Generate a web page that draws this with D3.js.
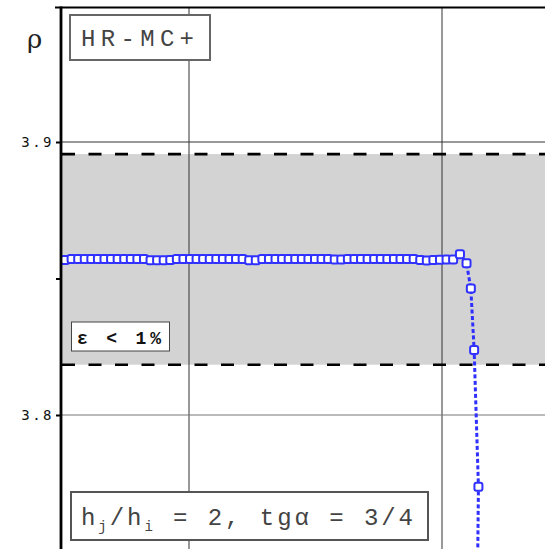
<!DOCTYPE html>
<html>
<head>
<meta charset="utf-8">
<script src="https://cdn.jsdelivr.net/npm/d3@7"></script>
<style>
  html, body { margin: 0; padding: 0; background: #fff; }
  svg { display: block; }
</style>
</head>
<body>
<svg id="chart" width="545" height="549"></svg>
<script>
// Parameter values along the horizontal axis
const xValues = [
  0.510, 0.536, 0.562, 0.588, 0.614, 0.640, 0.666, 0.692, 0.718, 0.744,
  0.770, 0.796, 0.822, 0.848, 0.874, 0.900, 0.926, 0.952, 0.978, 1.004,
  1.030, 1.056, 1.082, 1.108, 1.134, 1.160, 1.186, 1.212, 1.238, 1.264,
  1.290, 1.316, 1.342, 1.368, 1.394, 1.420, 1.446, 1.472, 1.498, 1.524,
  1.550, 1.576, 1.602, 1.628, 1.654, 1.680, 1.706, 1.732, 1.758, 1.784,
  1.810, 1.836, 1.862, 1.888, 1.914, 1.940, 1.966, 1.992, 2.018, 2.044,
  2.071, 2.097, 2.114, 2.127, 2.144, 2.138
];
// Computed density rho for each parameter value
const rhoValues = [
  3.8568, 3.8571, 3.8571, 3.8571, 3.8571, 3.8571, 3.8571, 3.8571, 3.8571, 3.8571,
  3.8571, 3.8571, 3.8571, 3.8567, 3.8567, 3.8567, 3.8568, 3.8571, 3.8571, 3.8571,
  3.8571, 3.8571, 3.8571, 3.8571, 3.8571, 3.8571, 3.8571, 3.8571, 3.8567, 3.8567,
  3.8571, 3.8571, 3.8571, 3.8571, 3.8571, 3.8571, 3.8571, 3.8571, 3.8571, 3.8571,
  3.8571, 3.8570, 3.8570, 3.8571, 3.8571, 3.8571, 3.8571, 3.8571, 3.8571, 3.8571,
  3.8571, 3.8571, 3.8571, 3.8571, 3.8568, 3.8566, 3.8568, 3.8569, 3.8570, 3.8570,
  3.8589, 3.8556, 3.8463, 3.8238, 3.7737, 3.7200
];
const visibleMarkers = 65;   // last point lies below the frame

// Reference level and tolerance band
const rhoRef = 3.857;
const tolerance = 0.01;

// Axis ticks
const yTickValues = [3.8, 3.85, 3.9];
const yTickLabels = ["3.8", "", "3.9"];
const xGridValues = [1, 2];
const yGridValues = [3.8, 3.9];

const svg = d3.select("#chart");
const W = 545, H = 549;
const plotLeft = 61, plotTop = 8;

const x = d3.scaleLinear().domain([1, 2]).range([189, 442]);
const y = d3.scaleLinear().domain([3.8, 3.9]).range([415, 142]);

svg.append("defs").append("clipPath").attr("id", "plotClip")
  .append("rect").attr("x", plotLeft).attr("y", plotTop)
  .attr("width", W - plotLeft).attr("height", H - plotTop);

const plot = svg.append("g").attr("clip-path", "url(#plotClip)");

// tolerance band
const bandTop = y(rhoRef * (1 + tolerance));
const bandBot = y(rhoRef * (1 - tolerance));
plot.append("rect")
  .attr("x", plotLeft).attr("y", bandTop)
  .attr("width", W - plotLeft).attr("height", bandBot - bandTop)
  .attr("fill", "#d3d3d3");

// grid
plot.selectAll(".vgrid").data(xGridValues).join("line")
  .attr("x1", d => x(d)).attr("x2", d => x(d))
  .attr("y1", plotTop).attr("y2", H)
  .attr("stroke", "#333").attr("stroke-width", 1);
plot.selectAll(".hgrid").data(yGridValues).join("line")
  .attr("x1", plotLeft).attr("x2", W)
  .attr("y1", d => y(d)).attr("y2", d => y(d))
  .attr("stroke", d => d === 3.9 ? "#333" : "#777").attr("stroke-width", 1);

// band edges
plot.selectAll(".bandEdge").data([rhoRef * (1 + tolerance), rhoRef * (1 - tolerance)]).join("line")
  .attr("x1", plotLeft + 1).attr("x2", W)
  .attr("y1", d => y(d)).attr("y2", d => y(d))
  .attr("stroke", "#000").attr("stroke-width", 2.6)
  .attr("stroke-dasharray", "13,13.5");

// series
const pts = xValues.map((v, i) => ({ x: v, y: rhoValues[i] }));
plot.append("path")
  .datum(pts)
  .attr("d", d3.line().x(d => x(d.x)).y(d => y(d.y)))
  .attr("fill", "none")
  .attr("stroke", "#2f2fff")
  .attr("stroke-width", 3)
  .attr("stroke-dasharray", "4,2.5");

const ms = 8;
plot.selectAll(".marker").data(pts.slice(0, visibleMarkers)).join("rect")
  .attr("x", d => x(d.x) - ms / 2)
  .attr("y", d => y(d.y) - ms / 2)
  .attr("width", ms).attr("height", ms)
  .attr("rx", 2)
  .attr("fill", "#fff")
  .attr("stroke", "#3030ff")
  .attr("stroke-width", 2);

// frame: top border and left axis
svg.append("line")
  .attr("x1", 55).attr("x2", W).attr("y1", plotTop - 0.5).attr("y2", plotTop - 0.5)
  .attr("stroke", "#000").attr("stroke-width", 2.2);

const yAxis = d3.axisLeft(y)
  .tickValues(yTickValues)
  .tickFormat((d, i) => yTickLabels[i])
  .tickSize(5)
  .tickPadding(2);
const ag = svg.append("g").attr("transform", `translate(${plotLeft},0)`).call(yAxis);
ag.select(".domain").remove();
ag.selectAll(".tick line").attr("stroke", "#000").attr("stroke-width", 2);
ag.selectAll(".tick text")
  .attr("font-family", "'DejaVu Sans Mono', monospace")
  .attr("font-size", 14)
  .attr("letter-spacing", 2.5)
  .attr("fill", "#111");
svg.append("line")
  .attr("x1", plotLeft).attr("x2", plotLeft).attr("y1", plotTop - 1.6).attr("y2", H)
  .attr("stroke", "#000").attr("stroke-width", 2.8);

// rho axis title
svg.append("text")
  .attr("x", 27).attr("y", 48)
  .attr("font-family", "'DejaVu Serif', 'Liberation Serif', serif")
  .attr("font-size", 26)
  .attr("fill", "#222")
  .text("ρ");

// method label
svg.append("rect")
  .attr("x", 70).attr("y", 15).attr("width", 140).attr("height", 45)
  .attr("fill", "#fff").attr("stroke", "#666").attr("stroke-width", 2);
svg.append("text")
  .attr("x", 81).attr("y", 46)
  .attr("font-family", "'Liberation Mono', 'Courier New', monospace")
  .attr("font-size", 24)
  .attr("fill", "#444")
  .attr("textLength", 113).attr("lengthAdjust", "spacing")
  .text("HR-MC+");

// tolerance label
svg.append("rect")
  .attr("x", 71.5).attr("y", 322).attr("width", 98).attr("height", 29)
  .attr("fill", "#fff").attr("stroke", "#444").attr("stroke-width", 1);
svg.append("text")
  .attr("x", 77).attr("y", 344)
  .attr("font-family", "'Liberation Mono', 'Courier New', monospace")
  .attr("font-size", 18)
  .attr("font-weight", "bold")
  .attr("fill", "#111")
  .attr("textLength", 84).attr("lengthAdjust", "spacing")
  .text("ε < 1%");

// geometry label
svg.append("rect")
  .attr("x", 71).attr("y", 492).attr("width", 357).attr("height", 48)
  .attr("fill", "#fff").attr("stroke", "#555").attr("stroke-width", 2);
const gt = svg.append("text")
  .attr("x", 81).attr("y", 525)
  .attr("font-family", "'Liberation Mono', 'Courier New', monospace")
  .attr("font-size", 24)
  .attr("fill", "#444")
  .attr("textLength", 332).attr("lengthAdjust", "spacing");
gt.append("tspan").text("h");
gt.append("tspan").attr("font-size", 14).attr("dy", 6).text("j");
gt.append("tspan").attr("dy", -6).text("/h");
gt.append("tspan").attr("font-size", 14).attr("dy", 6).text("i");
gt.append("tspan").attr("dy", -6).text(" = 2, tgα = 3/4");
</script>
</body>
</html>
